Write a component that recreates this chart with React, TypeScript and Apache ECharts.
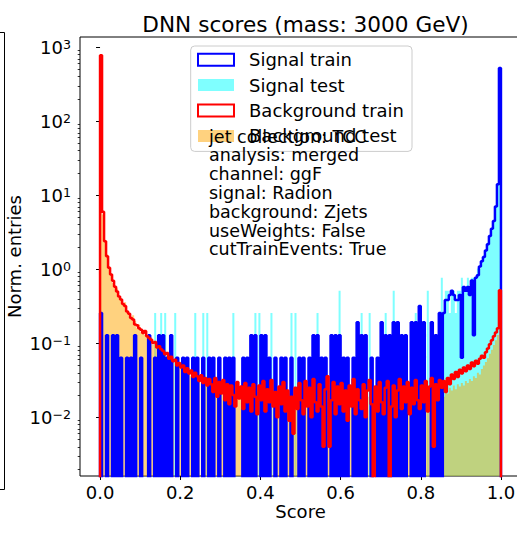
import React, { useEffect, useRef } from 'react';
import * as echarts from 'echarts';

// ---------- data ----------
const BIN_WIDTH = 0.005; // 200 bins on [0, 1]

// Signal train: event counts per bin (density = count * unit)
const SIG_TRAIN_UNIT = 0.064;
const sigTrainCounts = [
  4, 0, 0, 2, 0, 0, 2, 0, 2, 0,
  1, 0, 0, 1, 0, 1, 0, 2, 0, 0,
  1, 0, 0, 0, 2, 0, 0, 1, 0, 2,
  0, 2, 0, 1, 0, 2, 0, 0, 1, 0,
  0, 1, 0, 1, 0, 0, 1, 0, 1, 0,
  0, 1, 0, 0, 1, 0, 1, 0, 0, 1,
  0, 0, 1, 0, 1, 0, 1, 0, 0, 0,
  0, 1, 0, 1, 0, 2, 0, 2, 0, 0,
  2, 0, 2, 0, 1, 0, 0, 1, 0, 0,
  1, 0, 1, 0, 0, 1, 0, 0, 0, 1,
  0, 1, 0, 0, 1, 0, 2, 0, 2, 0,
  1, 0, 1, 0, 0, 2, 0, 2, 0, 2,
  0, 1, 0, 1, 0, 0, 1, 0, 3, 0,
  2, 0, 2, 0, 0, 1, 0, 0, 1, 0,
  3, 0, 2, 0, 2, 0, 3, 0, 3, 0,
  2, 0, 2, 0, 0, 3, 0, 3, 0, 5,
  0, 3, 0, 0, 0, 3, 0, 2, 0, 4,
  0, 4, 6, 6, 7, 8, 7, 6, 6, 7,
  1, 9, 8, 9, 7, 11, 2, 12, 13, 17,
  20, 23, 28, 34, 44, 55, 70, 110, 220, 8230,
];

// Signal test: event counts per bin
const SIG_TEST_UNIT = 0.256;
const sigTestCounts = [
  0, 0, 0, 0, 0, 0, 0, 0, 0, 0,
  0, 0, 0, 0, 0, 0, 0, 0, 0, 0,
  0, 0, 0, 0, 0, 0, 0, 1, 0, 0,
  1, 0, 1, 0, 0, 0, 0, 1, 0, 0,
  0, 0, 0, 0, 0, 0, 0, 1, 0, 0,
  0, 1, 0, 1, 0, 0, 0, 0, 0, 0,
  0, 0, 0, 0, 0, 0, 1, 0, 0, 0,
  0, 0, 0, 0, 0, 0, 0, 1, 0, 1,
  0, 0, 0, 0, 0, 1, 0, 0, 0, 0,
  0, 0, 0, 0, 0, 1, 0, 1, 0, 0,
  0, 0, 0, 0, 0, 0, 0, 0, 1, 0,
  0, 0, 0, 0, 0, 0, 0, 0, 0, 2,
  0, 0, 0, 0, 0, 0, 0, 0, 0, 0,
  1, 0, 0, 0, 1, 0, 0, 0, 0, 0,
  0, 0, 1, 0, 0, 0, 2, 0, 0, 0,
  0, 0, 0, 0, 0, 0, 0, 1, 0, 0,
  0, 0, 0, 2, 0, 0, 0, 0, 0, 0,
  3, 1, 2, 2, 1, 2, 2, 1, 2, 2,
  3, 2, 2, 3, 2, 3, 3, 3, 4, 4,
  5, 6, 7, 9, 11, 14, 18, 28, 55, 1875,
];

// Background train: normalised entries per bin
const bkgTrain = [
  780, 6, 2.4, 1.5, 1.05, 0.85, 0.7, 0.58, 0.5, 0.43,
  0.39, 0.34, 0.32, 0.27, 0.25, 0.22, 0.21, 0.18, 0.175, 0.16,
  0.152, 0.138, 0.147, 0.125, 0.118, 0.112, 0.101, 0.104, 0.088, 0.091,
  0.083, 0.079, 0.071, 0.074, 0.062, 0.066, 0.057, 0.06, 0.05, 0.054,
  0.047, 0.05, 0.041, 0.046, 0.039, 0.043, 0.035, 0.04, 0.036, 0.031,
  0.037, 0.029, 0.034, 0.027, 0.033, 0.028, 0.022, 0.034, 0.019, 0.03,
  0.021, 0.032, 0.017, 0.028, 0.015, 0.027, 0.02, 0.014, 0.03, 0.018,
  0.026, 0.013, 0.029, 0.016, 0.025, 0.012, 0.028, 0.019, 0.011, 0.027,
  0.017, 0.031, 0.012, 0.024, 0.016, 0.032, 0.014, 0.022, 0.01, 0.026,
  0.015, 0.03, 0.012, 0.023, 0.009, 0.019, 0.006, 0.025, 0.013, 0.029,
  0.017, 0.011, 0.031, 0.014, 0.025, 0.01, 0.033, 0.016, 0.012, 0.028,
  0.014, 0.004, 0.024, 0.036, 0.004, 0.017, 0.03, 0.011, 0.026, 0.015,
  0.029, 0.012, 0.023, 0.009, 0.027, 0.014, 0.033, 0.011, 0.024, 0.017,
  0.013, 0.028, 0.01, 0.023, 0.032, 0.015, 0, 0.026, 0.012, 0.03,
  0.016, 0.011, 0.025, 0.031, 0, 0.014, 0.027, 0.01, 0.023, 0.033,
  0.013, 0.026, 0.016, 0.03, 0.011, 0.025, 0.015, 0.032, 0.017, 0.013,
  0.027, 0.016, 0.031, 0.012, 0.026, 0.034, 0.004, 0.028, 0.017, 0.032,
  0.025, 0.031, 0.022, 0.034, 0.028, 0.038, 0.033, 0.041, 0.035, 0.044,
  0.039, 0.047, 0.042, 0.05, 0.045, 0.055, 0.049, 0.058, 0.053, 0.062,
  0.068, 0.064, 0.076, 0.085, 0.097, 0.11, 0.125, 0.14, 0.16, 0.52,
];

// Background test: normalised entries per bin
const bkgTest = [
  760, 5.5, 2.5, 1.6, 1.1, 0.88, 0.66, 0.6, 0.55, 0.41,
  0.4, 0.33, 0.36, 0.26, 0.25, 0.22, 0.24, 0.2, 0.16, 0.18,
  0.14, 0.15, 0.13, 0.13, 0.11, 0.12, 0.095, 0.1, 0.092, 0.083,
  0.086, 0.075, 0.074, 0.066, 0.068, 0.06, 0.062, 0, 0.056, 0.05,
  0.049, 0.044, 0.047, 0.04, 0.044, 0.036, 0.041, 0.034, 0.033, 0.035,
  0, 0.033, 0.028, 0.03, 0.026, 0.031, 0.027, 0.024, 0.028, 0.023,
  0.027, 0.022, 0.025, 0.02, 0.024, 0.021, 0.02, 0.023, 0.019, 0.022,
  0.018, 0.024, 0.02, 0.019, 0.021, 0.019, 0.023, 0.017, 0.022, 0,
  0.024, 0.017, 0.02, 0.023, 0.015, 0.021, 0, 0.018, 0.022, 0.017,
  0.02, 0.016, 0.023, 0.018, 0.021, 0.014, 0.006, 0.019, 0.022, 0.017,
  0.021, 0.018, 0.015, 0.022, 0.019, 0.024, 0.016, 0.02, 0, 0.018,
  0.022, 0.017, 0.02, 0.016, 0.023, 0.019, 0.021, 0.015, 0.024, 0.02,
  0.018, 0.021, 0.017, 0.025, 0.019, 0.016, 0.022, 0.02, 0.018, 0.023,
  0.02, 0.017, 0.022, 0.019, 0, 0.021, 0.018, 0.024, 0.016, 0.02,
  0.022, 0.019, 0.017, 0.023, 0.02, 0.018, 0.025, 0.021, 0.016, 0.022,
  0.019, 0.023, 0.017, 0.021, 0.024, 0.018, 0.022, 0.02, 0.026, 0.019,
  0.023, 0.021, 0.025, 0.019, 0.027, 0.022, 0.024, 0.028, 0.023, 0.026,
  0.022, 0.019, 0.024, 0.021, 0.025, 0.023, 0.027, 0.024, 0.028, 0.026,
  0.029, 0.027, 0.031, 0.029, 0.033, 0.031, 0.036, 0.034, 0.04, 0.038,
  0.045, 0.05, 0.056, 0.063, 0.072, 0.082, 0.095, 0.11, 0.13, 0.45,
];

const xTickValues = [0, 0.2, 0.4, 0.6, 0.8, 1.0];
const yDecadeValues = [0.01, 0.1, 1, 10, 100, 1000];
const legendNames = ['Signal train', 'Signal test', 'Background train', 'Background test'];
const infoLines = [
  'jet collection: TCC',
  'analysis: merged',
  'channel: ggF',
  'signal: Radion',
  'background: Zjets',
  'useWeights: False',
  'cutTrainEvents: True',
];
const titleText = 'DNN scores (mass: 3000 GeV)';

// ---------- helpers ----------
const FONT = 'DejaVu Sans';
const Y_MIN = Math.pow(10, -2.793);
const Y_MAX = Math.pow(10, 3.139);
const FLOOR = 1e-6;

const sigTrain = sigTrainCounts.map((c) => c * SIG_TRAIN_UNIT);
const sigTest = sigTestCounts.map((c) => c * SIG_TEST_UNIT);

const minorTickValues: number[] = [];
for (let e = -3; e <= 3; e++) {
  for (let k = 2; k <= 9; k++) {
    const v = k * Math.pow(10, e);
    if (v > Y_MIN && v < Y_MAX) minorTickValues.push(v);
  }
}

function stepPoints(values: number[]): number[][] {
  const pts: number[][] = [[0, FLOOR]];
  values.forEach((v, i) => {
    const y = v > 0 ? v : FLOOR;
    pts.push([i * BIN_WIDTH, y], [(i + 1) * BIN_WIDTH, y]);
  });
  pts.push([values.length * BIN_WIDTH, FLOOR]);
  return pts;
}

function fillRenderer(values: number[], color: string) {
  return (params: any, api: any) => {
    const pts: number[][] = [api.coord([0, Y_MIN])];
    values.forEach((v, i) => {
      const y = Math.min(Math.max(v, Y_MIN), Y_MAX);
      pts.push(api.coord([i * BIN_WIDTH, y]), api.coord([(i + 1) * BIN_WIDTH, y]));
    });
    pts.push(api.coord([values.length * BIN_WIDTH, Y_MIN]));
    return { type: 'polygon', shape: { points: pts }, style: { fill: color }, silent: true };
  };
}

const supMap = (e: number) => (e < 0 ? '\u2212' + -e : String(e));

const COLORS = {
  sigTrain: '#0000ff',
  sigTest: 'rgba(0,255,255,0.5)',
  bkgTrain: '#ff0000',
  bkgTest: 'rgba(255,165,0,0.5)',
};

export default function App() {
  const ref = useRef<HTMLDivElement>(null);
  useEffect(() => {
    document.body.style.margin = '0';
    const chart = echarts.init(ref.current!, null, { renderer: 'svg' });
    const option: any = {
      animation: false,
      textStyle: { fontFamily: FONT },
      title: {
        text: titleText,
        left: 300.5,
        top: 8,
        textAlign: 'center',
        textStyle: { fontSize: 21.6, fontWeight: 'normal', color: '#000', fontFamily: FONT },
      },
      grid: {
        left: 80,
        top: 37,
        width: 441,
        height: 439,
        show: true,
        borderColor: '#000',
        borderWidth: 1,
        containLabel: false,
        outerBoundsMode: 'none',
      },
      legend: {
        show: true,
        orient: 'vertical',
        left: 190.7,
        top: 46,
        padding: [4.7, 8, 6.5, 6.3],
        itemWidth: 36,
        itemHeight: 12,
        itemGap: 7.4,
        backgroundColor: 'rgba(255,255,255,0.8)',
        borderColor: '#cccccc',
        borderWidth: 1,
        borderRadius: 4,
        selectedMode: false,
        textStyle: { fontSize: 18, fontFamily: FONT, color: '#000', padding: [0, 0, 0, 10] },
        data: [
          { name: legendNames[0], icon: 'rect', itemStyle: { color: 'rgba(0,0,0,0)', borderColor: COLORS.sigTrain, borderWidth: 2 } },
          { name: legendNames[1], icon: 'rect', itemStyle: { color: COLORS.sigTest, borderWidth: 0 } },
          { name: legendNames[2], icon: 'rect', itemStyle: { color: 'rgba(0,0,0,0)', borderColor: COLORS.bkgTrain, borderWidth: 2 } },
          { name: legendNames[3], icon: 'rect', itemStyle: { color: COLORS.bkgTest, borderWidth: 0 } },
        ],
      },
      xAxis: {
        type: 'value',
        min: -0.05,
        max: 1.05,
        axisLine: { show: false },
        splitLine: { show: false },
        axisTick: { show: true, customValues: xTickValues, length: 4, lineStyle: { color: '#000', width: 1 } },
        axisLabel: {
          customValues: xTickValues,
          formatter: (v: number) => v.toFixed(1),
          fontSize: 18,
          fontFamily: FONT,
          color: '#000',
          margin: 7,
        },
        name: 'Score',
        nameLocation: 'middle',
        nameGap: 26,
        nameMoveOverlap: false,
        nameTextStyle: { fontSize: 18, fontFamily: FONT, color: '#000' },
      },
      yAxis: [
        {
          type: 'log',
          logBase: 10,
          min: Y_MIN,
          max: Y_MAX,
          axisLine: { show: false },
          splitLine: { show: false },
          axisTick: { show: true, customValues: yDecadeValues, length: 4, lineStyle: { color: '#000', width: 1 } },
          axisLabel: {
            customValues: yDecadeValues,
            formatter: (v: number) => `{b|10}{s|${supMap(Math.round(Math.log10(v)))}}`,
            margin: 9,
            color: '#000',
            rich: {
              b: { fontSize: 18, fontFamily: FONT, color: '#000' },
              s: { fontSize: 12.6, fontFamily: FONT, color: '#000', verticalAlign: 'top' },
            },
          },
          name: 'Norm. entries',
          nameLocation: 'middle',
          nameGap: 57,
          nameMoveOverlap: false,
          nameTextStyle: { fontSize: 18, fontFamily: FONT, color: '#000' },
        },
        {
          type: 'log',
          logBase: 10,
          min: Y_MIN,
          max: Y_MAX,
          position: 'left',
          axisLine: { show: false },
          splitLine: { show: false },
          axisLabel: { show: false },
          axisTick: { show: true, customValues: minorTickValues, length: 2.3, lineStyle: { color: '#000', width: 0.8 } },
        },
      ],
      series: [
        {
          name: legendNames[1],
          type: 'custom',
          xAxisIndex: 0,
          yAxisIndex: 0,
          data: [[0.5, 1]],
          itemStyle: { color: COLORS.sigTest },
          renderItem: fillRenderer(sigTest, COLORS.sigTest),
          silent: true,
        },
        {
          name: legendNames[3],
          type: 'custom',
          xAxisIndex: 0,
          yAxisIndex: 0,
          data: [[0.5, 1]],
          itemStyle: { color: COLORS.bkgTest },
          renderItem: fillRenderer(bkgTest, COLORS.bkgTest),
          silent: true,
        },
        {
          name: legendNames[0],
          type: 'line',
          xAxisIndex: 0,
          yAxisIndex: 0,
          data: stepPoints(sigTrain),
          symbol: 'none',
          showSymbol: false,
          clip: true,
          silent: true,
          itemStyle: { color: COLORS.sigTrain },
          lineStyle: { color: COLORS.sigTrain, width: 2.5 },
        },
        {
          name: legendNames[2],
          type: 'line',
          xAxisIndex: 0,
          yAxisIndex: 0,
          data: stepPoints(bkgTrain),
          symbol: 'none',
          showSymbol: false,
          clip: true,
          silent: true,
          itemStyle: { color: COLORS.bkgTrain },
          lineStyle: { color: COLORS.bkgTrain, width: 2.5 },
        },
      ],
      graphic: [
        {
          type: 'polyline',
          z: 100,
          silent: true,
          shape: { points: [[0, 32.5], [4.5, 32.5], [4.5, 489.5], [0, 489.5]] },
          style: { stroke: '#000', lineWidth: 1, fill: null },
        },
        {
          type: 'text',
          z: 100,
          silent: true,
          x: 209,
          y: 127.3,
          style: {
            text: infoLines.join('\n'),
            fontSize: 17.5,
            fontFamily: FONT,
            lineHeight: 18.8,
            fill: '#000',
            verticalAlign: 'top',
          },
        },
      ],
    };
    chart.setOption(option);
    return () => chart.dispose();
  }, []);
  return <div ref={ref} style={{ width: 517, height: 536 }} />;
}
